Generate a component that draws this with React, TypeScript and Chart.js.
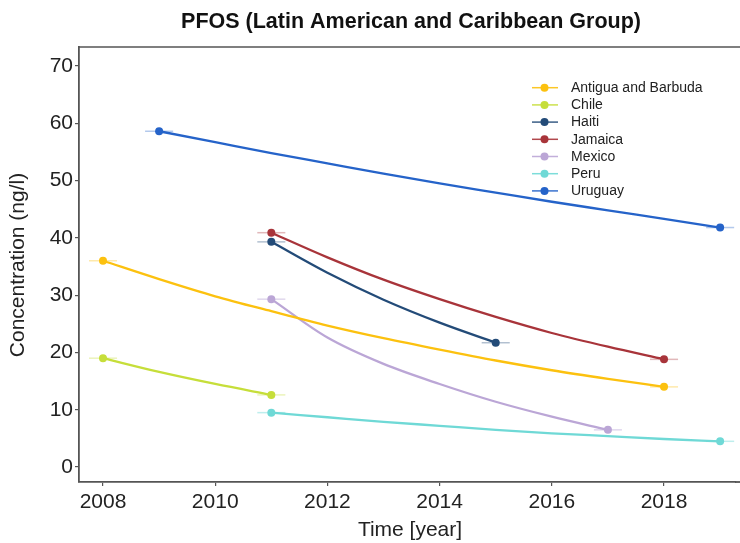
import React, { useEffect, useRef } from "react";
import { Chart, registerables } from "chart.js";

Chart.register(...registerables);

const TITLE = "PFOS (Latin American and Caribbean Group)";
const X_TITLE = "Time [year]";
const Y_TITLE = "Concentration (ng/l)";

const xTicks = [2008, 2010, 2012, 2014, 2016, 2018];
const yTicks = [0, 10, 20, 30, 40, 50, 60, 70];

const seriesNames = ["Antigua and Barbuda", "Chile", "Haiti", "Jamaica", "Mexico", "Peru", "Uruguay"];
const seriesColors = ["#FCC10F", "#C6DE3A", "#234B78", "#A8343A", "#BBA6D6", "#6FD9D6", "#2563C9"];
const errColors = [
  "rgba(252,193,15,0.35)",
  "rgba(198,222,58,0.35)",
  "rgba(35,75,120,0.35)",
  "rgba(168,52,58,0.35)",
  "rgba(187,166,214,0.45)",
  "rgba(111,217,214,0.45)",
  "rgba(37,99,201,0.35)",
];

const antiguaYears = [2008, 2009, 2010, 2011, 2012, 2013, 2014, 2015, 2016, 2017, 2018];
const antiguaValues = [36.0, 32.8, 29.8, 27.2, 24.7, 22.5, 20.5, 18.6, 16.9, 15.4, 14.0];
const chileYears = [2008, 2009, 2010, 2011];
const chileValues = [19.0, 16.6, 14.5, 12.6];
const haitiYears = [2011, 2012, 2013, 2014, 2015];
const haitiValues = [39.3, 33.9, 29.2, 25.2, 21.7];
const jamaicaYears = [2011, 2012, 2013, 2014, 2015, 2016, 2017, 2018];
const jamaicaValues = [40.9, 36.6, 32.7, 29.3, 26.2, 23.4, 21.0, 18.8];
const mexicoYears = [2011, 2012, 2013, 2014, 2015, 2016, 2017];
const mexicoValues = [29.3, 22.6, 18.0, 14.5, 11.4, 8.8, 6.5];
const peruYears = [2011, 2012, 2013, 2014, 2015, 2016, 2017, 2018, 2019];
const peruValues = [9.5, 8.7, 7.9, 7.2, 6.5, 5.9, 5.4, 4.9, 4.5];
const uruguayYears = [2009, 2010, 2011, 2012, 2013, 2014, 2015, 2016, 2017, 2018, 2019];
const uruguayValues = [58.6, 56.7, 54.8, 53.0, 51.2, 49.5, 47.9, 46.3, 44.8, 43.3, 41.8];

const yearErr = 0.25;

const allYears = [antiguaYears, chileYears, haitiYears, jamaicaYears, mexicoYears, peruYears, uruguayYears];
const allValues = [antiguaValues, chileValues, haitiValues, jamaicaValues, mexicoValues, peruValues, uruguayValues];

const FONT = "Arial, 'Liberation Sans', sans-serif";

export default function App() {
  const ref = useRef<HTMLCanvasElement | null>(null);

  useEffect(() => {
    document.body.style.margin = "0";
    const canvas = ref.current;
    if (!canvas) return;

    const datasets = seriesNames.map((name, i) => {
      const ys = allYears[i];
      const vs = allValues[i];
      const last = ys.length - 1;
      return {
        label: name,
        data: ys.map((x, k) => ({ x, y: vs[k] })),
        borderColor: seriesColors[i],
        backgroundColor: seriesColors[i],
        borderWidth: 2.3,
        cubicInterpolationMode: "monotone" as const,
        pointRadius: ys.map((_, k) => (k === 0 || k === last ? 4 : 0)),
        pointBorderWidth: 0,
        pointHoverRadius: 0,
        fill: false,
        clip: false as any,
      };
    });

    const decor = {
      id: "decor",
      beforeDatasetsDraw(chart: any) {
        const ctx = chart.ctx;
        const xs = chart.scales.x;
        const ysc = chart.scales.y;
        ctx.save();
        ctx.lineWidth = 1.5;
        allYears.forEach((years, i) => {
          const vals = allValues[i];
          const idx = [0, years.length - 1];
          idx.forEach((k) => {
            const py = ysc.getPixelForValue(vals[k]);
            const x1 = xs.getPixelForValue(years[k] - yearErr);
            const x2 = xs.getPixelForValue(years[k] + yearErr);
            ctx.strokeStyle = errColors[i];
            ctx.beginPath();
            ctx.moveTo(x1, py);
            ctx.lineTo(x2, py);
            ctx.stroke();
          });
        });
        ctx.restore();
      },
      afterDraw(chart: any) {
        const ctx = chart.ctx;
        const area = chart.chartArea;
        ctx.save();
        // top border and extension of bottom axis to the edge
        ctx.strokeStyle = "#555555";
        ctx.lineWidth = 1.6;
        ctx.beginPath();
        ctx.moveTo(area.left - 0.8, area.top);
        ctx.lineTo(740, area.top);
        ctx.stroke();
        ctx.lineWidth = 1.8;
        ctx.beginPath();
        ctx.moveTo(area.right - 1, area.bottom);
        ctx.lineTo(740, area.bottom);
        ctx.stroke();

        // title
        ctx.fillStyle = "#111111";
        ctx.font = `bold 21.5px ${FONT}`;
        ctx.textAlign = "center";
        ctx.textBaseline = "middle";
        ctx.fillText(TITLE, 411, 22);

        // axis titles
        ctx.font = `21px ${FONT}`;
        ctx.fillStyle = "#222222";
        ctx.fillText(X_TITLE, 410, 530);
        ctx.save();
        ctx.translate(18, 265);
        ctx.rotate(-Math.PI / 2);
        ctx.fillText(Y_TITLE, 0, 0);
        ctx.restore();

        // legend
        const lx = 532;
        let ly = 87.7;
        ctx.font = `14px ${FONT}`;
        ctx.textAlign = "left";
        seriesNames.forEach((name, i) => {
          ctx.strokeStyle = seriesColors[i];
          ctx.globalAlpha = 0.9;
          ctx.lineWidth = 1.5;
          ctx.beginPath();
          ctx.moveTo(lx, ly);
          ctx.lineTo(lx + 26, ly);
          ctx.stroke();
          ctx.globalAlpha = 1;
          ctx.fillStyle = seriesColors[i];
          ctx.beginPath();
          ctx.arc(lx + 12.5, ly, 4, 0, Math.PI * 2);
          ctx.fill();
          ctx.fillStyle = "#222222";
          ctx.fillText(name, 571, ly + 0.5);
          ly += 17.2;
        });
        ctx.restore();
      },
    };

    const chart = new Chart(canvas, {
      type: "line",
      data: { datasets: datasets as any },
      options: {
        animation: false,
        responsive: false,
        maintainAspectRatio: false,
        events: [],
        layout: { padding: { top: 47, right: 0, left: 0, bottom: 0 } },
        plugins: {
          legend: { display: false },
          title: { display: false },
          tooltip: { enabled: false },
        },
        scales: {
          x: {
            type: "linear",
            min: 2007.572,
            max: 2019.283,
            afterBuildTicks: (s: any) => {
              s.ticks = xTicks.map((v) => ({ value: v }));
            },
            afterFit: (s: any) => {
              s.height = 61;
              s.paddingLeft = 0;
              s.paddingRight = 0;
            },
            grid: {
              drawOnChartArea: false,
              drawTicks: true,
              tickLength: 4,
              color: "#555555",
              lineWidth: 1.2,
            },
            border: { display: true, color: "#555555", width: 1.8 },
            ticks: {
              color: "#222222",
              font: { family: FONT, size: 21 },
              padding: 4,
              maxRotation: 0,
              callback: (v: any) => String(v),
            },
          },
          y: {
            type: "linear",
            min: -2.6,
            max: 73.3,
            afterBuildTicks: (s: any) => {
              s.ticks = yTicks.map((v) => ({ value: v }));
            },
            afterFit: (s: any) => {
              s.width = 79;
              s.paddingTop = 0;
              s.paddingBottom = 0;
            },
            grid: {
              drawOnChartArea: false,
              drawTicks: true,
              tickLength: 4,
              color: "#555555",
              lineWidth: 1.2,
            },
            border: { display: true, color: "#555555", width: 1.8 },
            ticks: {
              color: "#222222",
              font: { family: FONT, size: 21 },
              padding: 2,
              callback: (v: any) => String(v),
            },
          },
        },
      },
      plugins: [decor],
    });

    return () => chart.destroy();
  }, []);

  return (
    <div style={{ width: 740, height: 543, position: "relative", background: "#ffffff" }}>
      <canvas ref={ref} width={740} height={543} style={{ width: 740, height: 543, display: "block" }} />
    </div>
  );
}
